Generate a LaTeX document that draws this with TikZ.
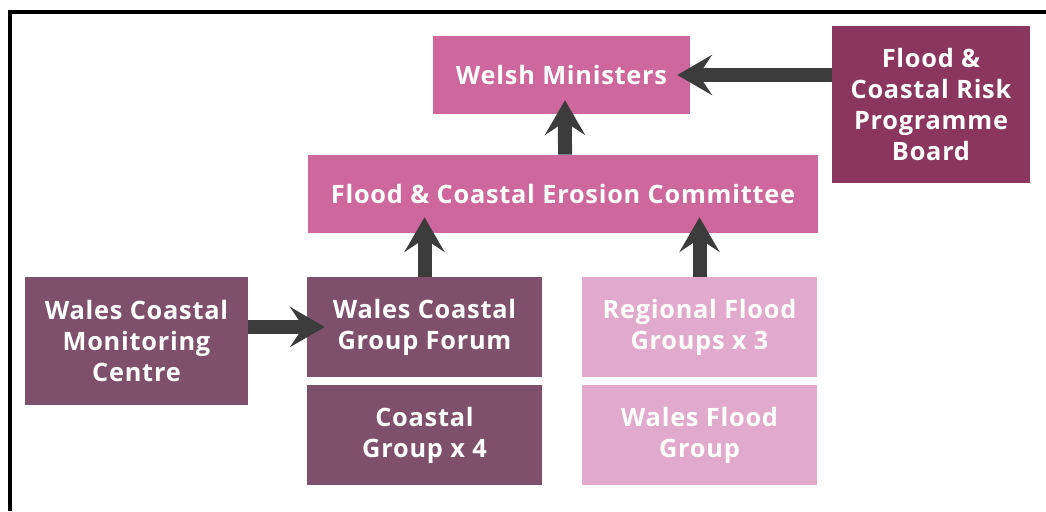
\documentclass[tikz,border=0pt]{standalone}
\usepackage{fontspec}
\setmainfont{Open Sans}[LetterSpace=3]
\usetikzlibrary{arrows.meta}
\definecolor{pinkmid}{HTML}{CD679C}
\definecolor{plum}{HTML}{8A365F}
\definecolor{mauve}{HTML}{7F506B}
\definecolor{pinklight}{HTML}{E1A9CB}
\definecolor{arrowgrey}{HTML}{3C3C3C}
\tikzset{
  box/.style n args={3}{draw=none, fill=#1, minimum width=#2*0.75pt, minimum height=#3*0.75pt,
    inner sep=0pt, text=white, align=center,
    font=\fontsize{19pt}{23.3pt}\selectfont\bfseries},
  arr/.style={draw=arrowgrey, line width=10.5pt,
    -{Stealth[length=26pt, width=30pt, inset=10pt, fill=arrowgrey]}},
  frame/.style={draw=black, line width=3pt}
}
\begin{document}
\begin{tikzpicture}[x=0.75pt, y=-0.75pt]
\useasboundingbox (0,0) rectangle (1046,511);
\coordinate (f1) at (10,511);
\coordinate (f2) at (10,12);
\coordinate (f3) at (1046,12);
\draw[frame] (f1) -- (f2) -- (f3);

\node[box={pinkmid}{257}{78}] (wm) at (561.5,75) {Welsh Ministers};
\node[box={plum}{198}{157}] (board) at (931,104.5) {Flood \&\\Coastal Risk\\Programme\\Board};
\node[box={pinkmid}{510}{78}] (comm) at (563,194) {Flood \& Coastal Erosion Committee};
\node[box={mauve}{223}{128}] (wcmc) at (136.5,341) {Wales Coastal\\Monitoring\\Centre};
\node[box={mauve}{235}{100}] (forum) at (424.5,327) {Wales Coastal\\Group Forum};
\node[box={mauve}{235}{100}] (cg) at (424.5,435) {Coastal\\Group x 4};
\node[box={pinklight}{235}{100}] (rfg) at (699.5,327) {Regional Flood\\Groups x 3};
\node[box={pinklight}{235}{100}] (wfg) at (699.5,435) {Wales Flood\\Group};

\draw[arr] (board.west |- wm.east) -- ([xshift=-9.75pt]wm.east);
\draw[arr] ([xshift=1.5pt]comm.north) -- ([xshift=2.6pt, yshift=10.5pt]wm.south);
\draw[arr] (forum.north) -- ([yshift=12pt]forum.north |- comm.south);
\draw[arr] (rfg.north) -- ([yshift=12pt]rfg.north |- comm.south);
\draw[arr] (wcmc.east |- forum.west) -- ([xshift=13.5pt]forum.west);
\end{tikzpicture}
\end{document}
